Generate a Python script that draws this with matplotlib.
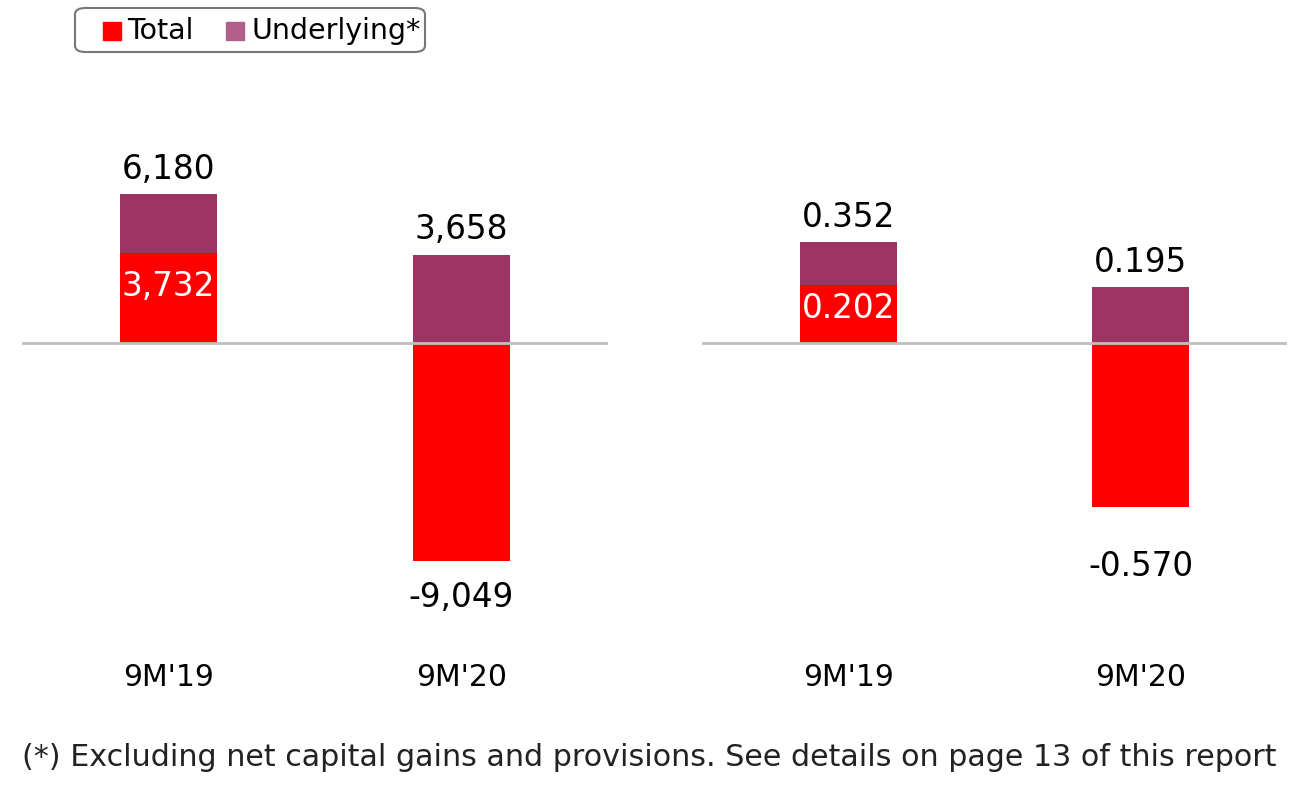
import matplotlib
matplotlib.use("Agg")
from matplotlib import pyplot as plt
from matplotlib.patches import FancyBboxPatch, Rectangle
from matplotlib.transforms import blended_transform_factory

plt.rcParams['font.family'] = ['DejaVu Sans']

periods = ["9M'19", "9M'20"]
# left panel: attributable profit (EUR mn)
profit_total = [3732, -9049]
profit_underlying = [6180, 3658]
profit_labels_total = ["3,732", "-9,049"]
profit_labels_under = ["6,180", "3,658"]
# right panel: EPS (EUR)
eps_total = [0.202, -0.570]
eps_underlying = [0.352, 0.195]
eps_labels_total = ["0.202", "-0.570"]
eps_labels_under = ["0.352", "0.195"]
legend_names = ["Total", "Underlying*"]

red = "#FF0000"
purple = "#9C3563"
purple_legend = "#B05F8A"

W, H = 1302, 802
fig = plt.figure(figsize=(W / 100, H / 100), dpi=100)

# axes span pixel rows 100..620, zero line at row 343
ax_top, ax_bot = 100, 620
zero_px = 343


def make_axes(x0, x1):
    return fig.add_axes([x0 / W, 1 - ax_bot / H, (x1 - x0) / W, (ax_bot - ax_top) / H])


def draw_panel(ax, total, under, lab_t, lab_u, px_per_unit, in_gap, neg_gap):
    ax.set_xlim(-0.5, 1.5)
    ax.set_ylim(-(ax_bot - zero_px) / px_per_unit, (zero_px - ax_top) / px_per_unit)
    x = list(range(len(periods)))
    ax.bar(x, under, width=0.33, color=purple, zorder=2)
    ax.bar(x, total, width=0.33, color=red, zorder=3)
    ax.axhline(0, color="#BFBFBF", lw=2, zorder=4)
    for i in x:
        # underlying label above the purple bar
        ax.annotate(lab_u[i], (i, under[i]), xytext=(0, 6), textcoords="offset points",
                    ha="center", va="bottom", fontsize=23.5)
        if total[i] >= 0:
            ax.annotate(lab_t[i], (i, total[i]), xytext=(0, -in_gap), textcoords="offset points",
                        ha="center", va="top", fontsize=23.5, color="white", zorder=5)
        else:
            ax.annotate(lab_t[i], (i, total[i]), xytext=(0, -neg_gap), textcoords="offset points",
                        ha="center", va="top", fontsize=23.5)
    tr = blended_transform_factory(ax.transData, fig.transFigure)
    for i, p in enumerate(periods):
        ax.text(i, 1 - 677 / H, p, transform=tr, ha="center", va="center", fontsize=21.5)
    ax.axis("off")


ax1 = make_axes(22, 608)
draw_panel(ax1, profit_total, profit_underlying, profit_labels_total, profit_labels_under,
           149 / 6180, 12, 14)
ax2 = make_axes(702, 1287)
draw_panel(ax2, eps_total, eps_underlying, eps_labels_total, eps_labels_under,
           101 / 0.352, 5, 31)


# legend drawn by hand in pixel coords (y from top)
def px(x, y):
    return x / W, 1 - y / H


box = FancyBboxPatch(px(75, 52), 350 / W, 44 / H, boxstyle="round,pad=0,rounding_size=0.008",
                     transform=fig.transFigure, facecolor="white", edgecolor="#777777", lw=1.5)
fig.add_artist(box)
for name, col, sx, tx in zip(legend_names, [red, purple_legend], [103, 226], [127, 252]):
    fig.add_artist(Rectangle(px(sx, 40), 18 / W, 18 / H, transform=fig.transFigure,
                             color=col))
    fig.text(*px(tx, 31), name, ha="left", va="center", fontsize=20.5)

fig.text(22 / W, 1 - 757 / H,
         "(*) Excluding net capital gains and provisions. See details on page 13 of this report",
         ha="left", va="center", fontsize=21.7, color="#222222")

fig.savefig("out.png", dpi=100)
